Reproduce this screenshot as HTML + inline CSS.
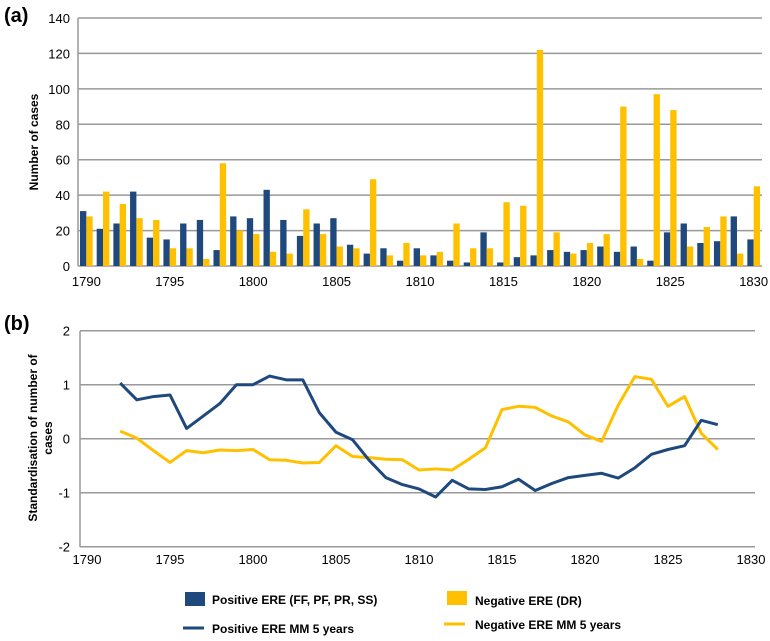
<!DOCTYPE html>
<html><head><meta charset="utf-8"><style>
body{margin:0;background:#fff;font-family:"Liberation Sans",Arial,sans-serif}
svg text{font-family:"Liberation Sans",Arial,sans-serif}
</style></head><body>
<svg id="c" width="770" height="636" viewBox="0 0 770 636" xmlns="http://www.w3.org/2000/svg"></svg>
<script>
const years=[];for(let y=1790;y<=1830;y++)years.push(y);
const positiveCounts=[31,21,24,42,16,15,24,26,9,28,27,43,26,17,24,27,12,7,10,3,10,6,3,2,19,2,5,6,9,8,9,11,8,11,3,19,24,13,14,28,15];
const negativeCounts=[28,42,35,27,26,10,10,4,58,20,18,8,7,32,18,11,10,49,6,13,6,8,24,10,10,36,34,122,19,7,13,18,90,4,97,88,11,22,28,7,45];
const yTicksA=[0,20,40,60,80,100,120,140];
const xTickYears=[1790,1795,1800,1805,1810,1815,1820,1825,1830];
const mmYears=[];for(let y=1792;y<=1828;y++)mmYears.push(y);
const positiveMM=[1.03,0.72,0.78,0.81,0.19,0.42,0.65,1.0,1.0,1.16,1.09,1.09,0.48,0.12,-0.02,-0.4,-0.72,-0.85,-0.93,-1.08,-0.77,-0.93,-0.94,-0.89,-0.75,-0.96,-0.83,-0.72,-0.68,-0.64,-0.73,-0.54,-0.29,-0.2,-0.13,0.34,0.26];
const negativeMM=[0.14,0.01,-0.22,-0.44,-0.22,-0.26,-0.21,-0.22,-0.2,-0.39,-0.4,-0.45,-0.44,-0.13,-0.33,-0.35,-0.38,-0.39,-0.58,-0.56,-0.58,-0.38,-0.17,0.54,0.6,0.58,0.42,0.31,0.07,-0.05,0.62,1.15,1.1,0.6,0.78,0.1,-0.2];
const yTicksB=[-2,-1,0,1,2];
const BLUE="#1f497d",YEL="#ffc000";
const svg=document.getElementById('c');
function el(t,a,txt){const e=document.createElementNS("http://www.w3.org/2000/svg",t);for(const k in a)e.setAttribute(k,a[k]);if(txt!=null)e.textContent=txt;svg.appendChild(e);return e;}
// Panel A scales
const aL=78,aR=762,aTop=18,aBot=266;
const yA=v=>aBot-v*(aBot-aTop)/140;
const cw=(aR-aL)/years.length;
const xA=i=>aL+(i+0.5)*cw;
let t=el('text',{x:4,y:22,'font-size':20,'font-weight':'bold'},'(a)');

yTicksA.forEach(v=>{const g=el('line',{x1:aL,x2:aR,y1:yA(v),y2:yA(v),stroke:'#999','stroke-width':1.5});

const l=el('text',{x:70,y:yA(v)+5,'text-anchor':'end','font-size':13},v);
});
let ax=el('line',{x1:aL,x2:aL,y1:aTop,y2:aBot,stroke:'#999','stroke-width':1.5});

t=el('text',{transform:'translate(38,142) rotate(-90)','text-anchor':'middle','font-size':12,'font-weight':'bold'},'Number of cases');

const bw=cw*0.38;
years.forEach((y,i)=>{
 const b=el('rect',{x:xA(i)-bw,y:yA(positiveCounts[i]),width:bw,height:aBot-yA(positiveCounts[i]),fill:BLUE});
 
 const c=el('rect',{x:xA(i),y:yA(negativeCounts[i]),width:bw,height:aBot-yA(negativeCounts[i]),fill:YEL});
 
});
xTickYears.forEach(y=>{const l=el('text',{x:xA(y-1790),y:286,'text-anchor':'middle','font-size':13},y);
});
// Panel B
const bL=80,bR=755,bTop=331,bBot=547;
const yB=v=>438.7-v*54;
const xB=y=>87+(y-1790)*16.6;
t=el('text',{x:4,y:330,'font-size':20,'font-weight':'bold'},'(b)');

yTicksB.forEach(v=>{const g=el('line',{x1:bL,x2:bR,y1:yB(v),y2:yB(v),stroke:'#999','stroke-width':1.5});

const l=el('text',{x:70,y:yB(v)+5,'text-anchor':'end','font-size':13},v);
});
ax=el('line',{x1:bL,x2:bL,y1:bTop,y2:bBot,stroke:'#999','stroke-width':1.5});

t=el('text',{transform:'translate(37,438) rotate(-90)','text-anchor':'middle','font-size':12,'font-weight':'bold'},'Standardisation  of number of');

t=el('text',{transform:'translate(52,438) rotate(-90)','text-anchor':'middle','font-size':12,'font-weight':'bold'},'cases');

xTickYears.forEach(y=>{const l=el('text',{x:xB(y),y:564,'text-anchor':'middle','font-size':13},y);
});
let p=el('polyline',{points:negativeMM.map((v,i)=>xB(mmYears[i])+','+yB(v)).join(' '),fill:'none',stroke:YEL,'stroke-width':3,'stroke-linejoin':'round'});

p=el('polyline',{points:positiveMM.map((v,i)=>xB(mmYears[i])+','+yB(v)).join(' '),fill:'none',stroke:BLUE,'stroke-width':3,'stroke-linejoin':'round'});

// Legend
let r=el('rect',{x:185,y:592,width:20,height:14,fill:BLUE});
t=el('text',{x:212,y:604,'font-size':12,'font-weight':'bold'},'Positive ERE (FF, PF, PR, SS)');
r=el('rect',{x:447,y:591,width:20,height:14,fill:YEL});
t=el('text',{x:475,y:605,'font-size':12,'font-weight':'bold'},'Negative ERE (DR)');
r=el('line',{x1:183,x2:204,y1:628,y2:628,stroke:BLUE,'stroke-width':3});
t=el('text',{x:212,y:633,'font-size':12,'font-weight':'bold'},'Positive ERE MM 5 years');
r=el('line',{x1:444,x2:465,y1:624,y2:624,stroke:YEL,'stroke-width':3});
t=el('text',{x:475,y:629,'font-size':12,'font-weight':'bold'},'Negative ERE MM 5 years');
</script>
</body></html>
